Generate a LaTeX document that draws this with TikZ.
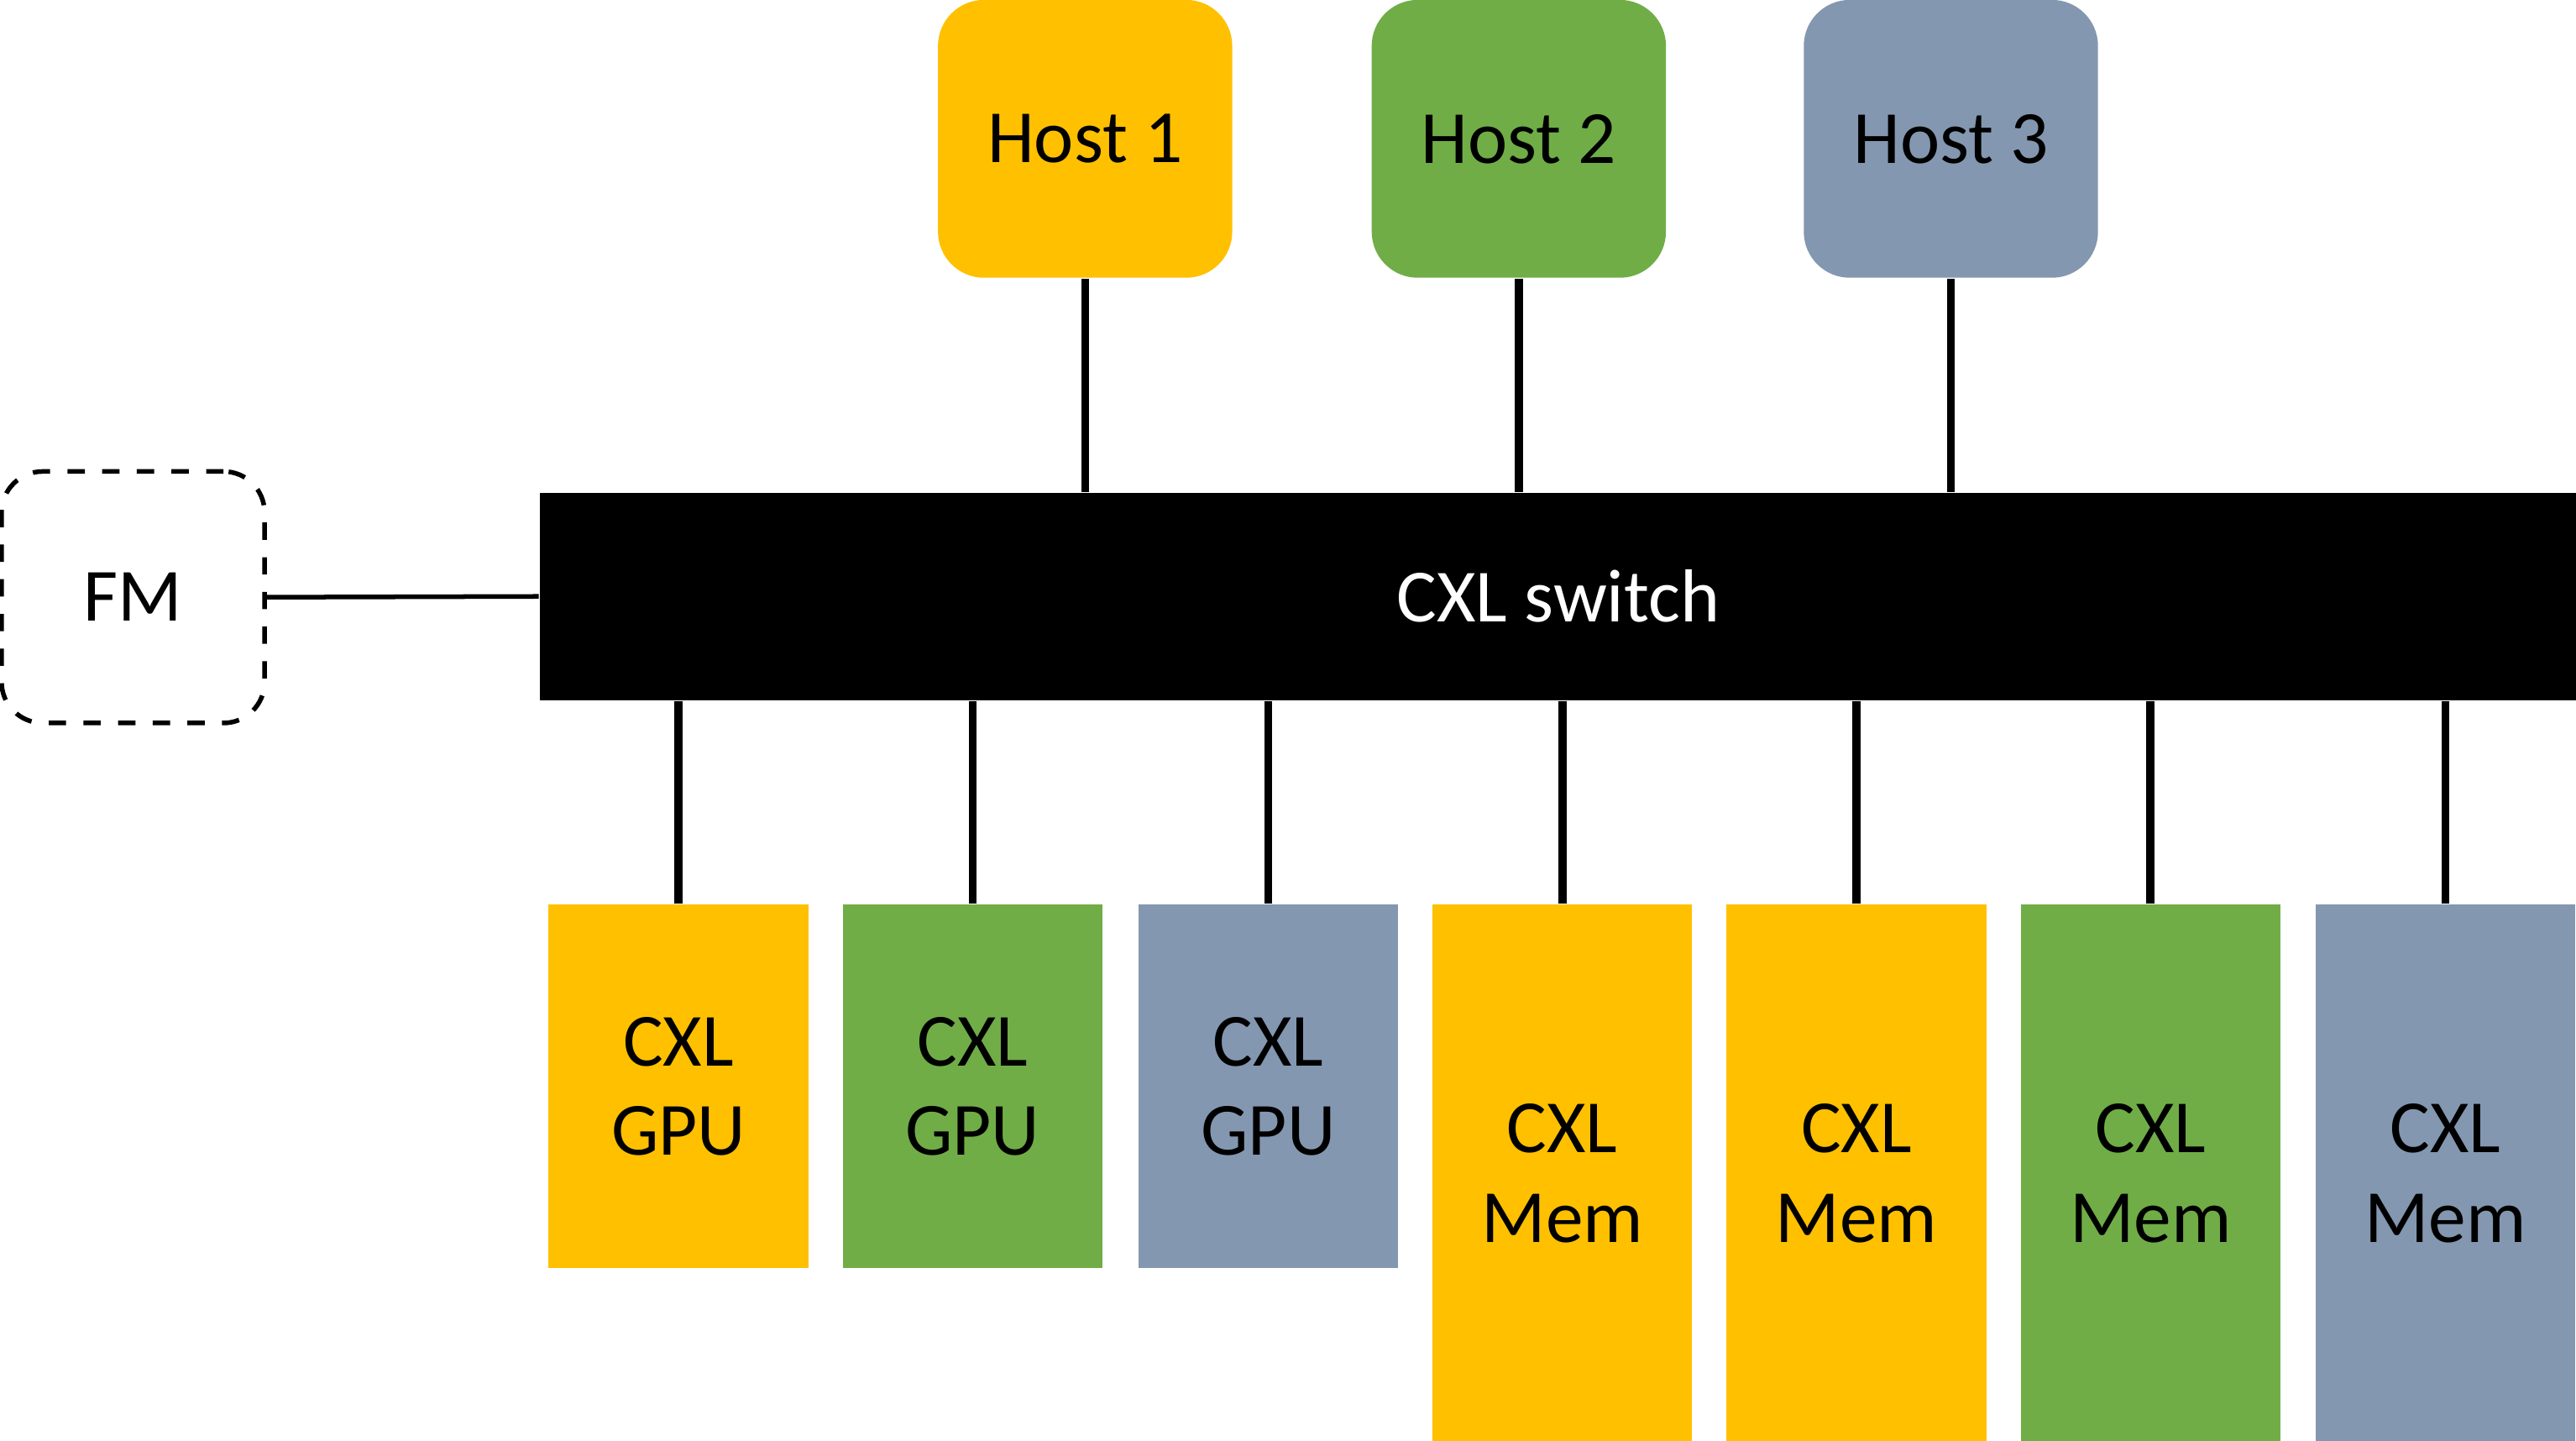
\documentclass[tikz,border=0pt]{standalone}
\usepackage{fontspec}
\setmainfont{Carlito}
\definecolor{cyellow}{HTML}{FFC000}
\definecolor{cgreen}{HTML}{70AD47}
\definecolor{cgrey}{HTML}{8497B0}
\tikzset{
    host/.style={rounded corners=0.28cm, minimum width=1.79cm, minimum height=1.69cm, inner sep=0pt},
    dev/.style={minimum width=1.58cm, inner sep=0pt, align=center, anchor=north},
    gpu/.style={dev, minimum height=2.21cm},
    mem/.style={dev, minimum height=3.27cm},
    link/.style={line width=1.4pt},
}
\begin{document}
\begin{tikzpicture}[x=0.01cm, y=-0.01cm, font=\fontsize{13}{15.5}\selectfont]
        \useasboundingbox (0,0) rectangle (1568,877);
        % switch and fabric manager
        \node[fill=black, text=white, minimum width=12.39cm, minimum height=1.26cm, inner sep=0pt] (sw) at (948.5,363) { CXL switch };
        \node[draw, dashed, line width=0.8pt, rounded corners=0.25cm, minimum width=1.6cm, minimum height=1.53cm] (fm) at (81,363.5) { FM };
        \draw[line width=0.8pt] (fm.east) -- (sw.west);
        % hosts
        \node[host, fill=cyellow] (h1) at (660.5,84.5) { Host 1 };
        \node[host, fill=cgreen]  (h2) at (924.5,84.5) { Host 2 };
        \node[host, fill=cgrey]   (h3) at (1187.5,84.5) { Host 3 };
        \foreach \h in {h1, h2, h3}
            \draw[link] (\h.south) -- (\h.south |- sw.north);
        % devices
        \node[gpu, fill=cyellow] (d1) at (413,550) { CXL\\GPU };
        \node[gpu, fill=cgreen]  (d2) at (592,550) { CXL\\GPU };
        \node[gpu, fill=cgrey]   (d3) at (772,550) { CXL\\GPU };
        \node[mem, fill=cyellow] (d4) at (951,550) { CXL\\Mem };
        \node[mem, fill=cyellow] (d5) at (1130,550) { CXL\\Mem };
        \node[mem, fill=cgreen]  (d6) at (1309,550) { CXL\\Mem };
        \node[mem, fill=cgrey]   (d7) at (1488.5,550) { CXL\\Mem };
        \foreach \d in {d1, d2, d3, d4, d5, d6, d7}
            \draw[link] (\d.north) -- (\d.north |- sw.south);
\end{tikzpicture}
\end{document}
